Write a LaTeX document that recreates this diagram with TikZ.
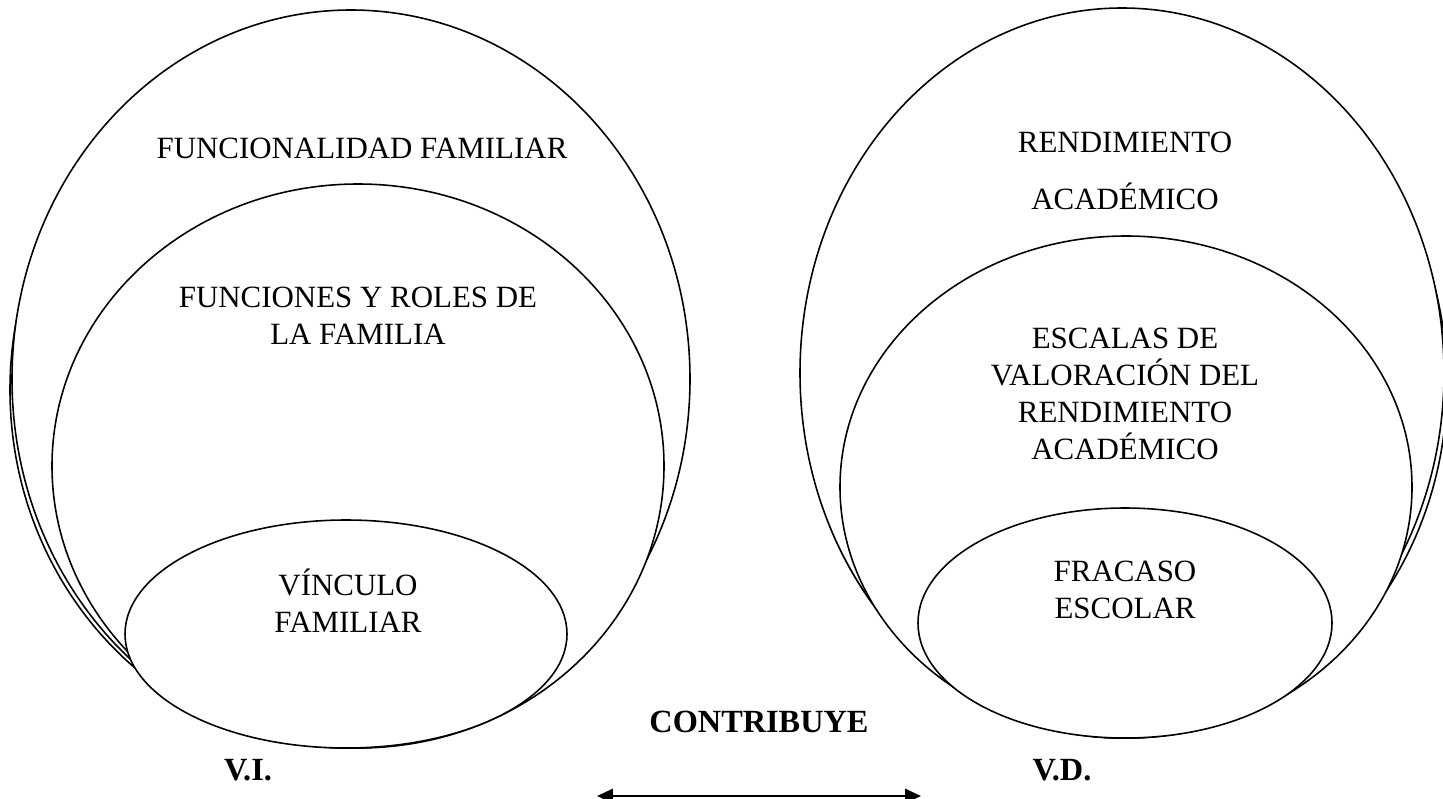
\documentclass[tikz,border=0pt]{standalone}
\usepackage{fontspec}
\setmainfont{Liberation Serif}
\usetikzlibrary{arrows.meta}

\begin{document}
\begin{tikzpicture}[x=0.02cm,y=-0.02cm,>={Triangle[length=9pt,width=8pt]},
    every node/.style={font=\fontsize{17.6}{21}\selectfont,align=center,inner sep=0pt},
    ring/.style={draw,line width=0.9pt,fill=white},
    ghost/.style={draw,line width=0.9pt},
    tag/.style={font=\fontsize{18.4}{21}\selectfont\bfseries}]
  \useasboundingbox (0,0) rectangle (1443,798);

  % V.I.
  \draw[ghost] (348,390) ellipse [x radius=338, y radius=358];
  \draw[ring] (351,379) ellipse [x radius=339, y radius=369];
  \draw[ring] (358,466) ellipse [x radius=306, y radius=282];
  \draw[ring] (346,634) ellipse [x radius=221, y radius=114];
  \node (funcionalidad) at (362,148) {FUNCIONALIDAD FAMILIAR};
  \node (roles) at (358,316) {FUNCIONES Y ROLES DE\\LA FAMILIA};
  \node (vinculo) at (348,601) {VÍNCULO\\FAMILIAR};
  \node[tag] (vi) at (248,770) {V.I.};

  % V.D.
  \draw[ghost] (1125,384) ellipse [x radius=322, y radius=354];
  \draw[ring] (1122,373) ellipse [x radius=322, y radius=365];
  \draw[ring] (1126,487) ellipse [x radius=286, y radius=251];
  \draw[ring] (1125,623) ellipse [x radius=207, y radius=115];
  \node (rendimiento) at (1125,171) {RENDIMIENTO\\[11pt]ACADÉMICO};
  \node (escalas) at (1125,394) {ESCALAS DE\\VALORACIÓN DEL\\RENDIMIENTO\\ACADÉMICO};
  \node (fracaso) at (1125,590) {FRACASO\\ESCOLAR};
  \node[tag] (vd) at (1062,770) {V.D.};

  % relacion
  \node[tag] (contribuye) at (759,722) {CONTRIBUYE};
  \coordinate (izq) at (597,796);
  \coordinate (der) at (921,796);
  \draw[<->,line width=1.4pt] (izq) -- (der);
\end{tikzpicture}
\end{document}
